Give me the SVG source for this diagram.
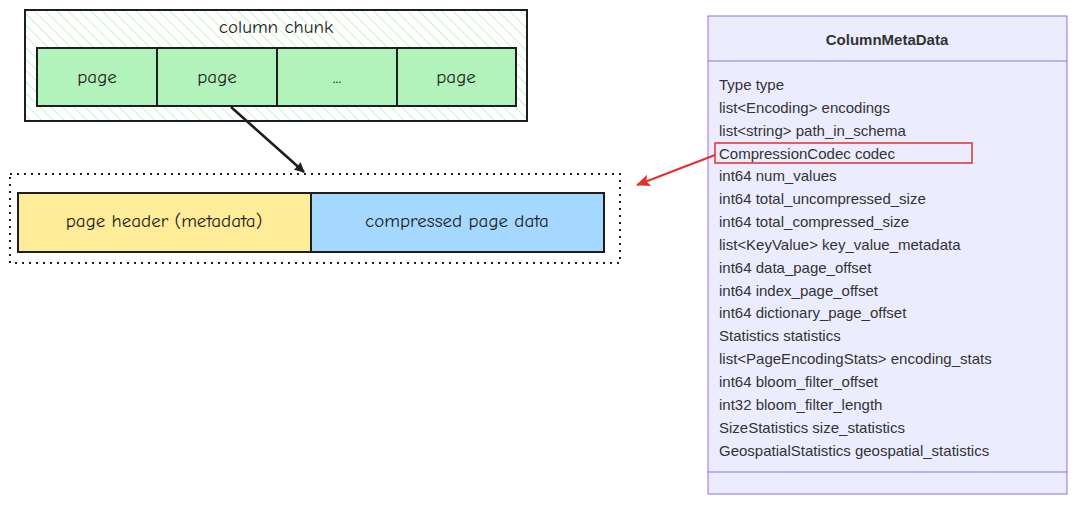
<svg xmlns="http://www.w3.org/2000/svg" width="1078" height="507" viewBox="0 0 1078 507">
<style>
.hw{font-family:"Comic Neue","DejaVu Sans",sans-serif;font-size:19px;fill:#1e1e1e;text-anchor:middle;dominant-baseline:central}
.pg{fill:#b2f2bb;stroke:#1e1e1e;stroke-width:2}
.row{font-family:"Liberation Sans",Arial,sans-serif;font-size:15px;fill:#333;dominant-baseline:central}
</style>
<defs>
<pattern id="hatch" patternUnits="userSpaceOnUse" width="8" height="8" patternTransform="rotate(-45)">
<rect width="8" height="8" fill="#fff"/><line x1="0" y1="0" x2="0" y2="8" stroke="#b2f2bb" stroke-width="1.5"/>
</pattern>
<marker id="ab" markerWidth="10" markerHeight="10" refX="9" refY="5" orient="auto" markerUnits="userSpaceOnUse" viewBox="0 0 10 10"><path d="M0,0 L10,5 L0,10 z" fill="#1e1e1e"/></marker>
<marker id="ar" markerWidth="14" markerHeight="12" refX="13" refY="6" orient="auto" markerUnits="userSpaceOnUse" viewBox="0 0 14 12"><path d="M0,0 L14,6 L0,12 L3,6 z" fill="#e03131"/></marker>
</defs>
<rect width="1078" height="507" fill="#fff"/>
<g id="column-chunk">
<rect x="25" y="10" width="502" height="111" fill="url(#hatch)" stroke="#1e1e1e" stroke-width="2"/>
<text class="hw" x="276" y="27">column chunk</text>
</g>
<g id="page1"><rect class="pg" x="37" y="48" width="120" height="58"/><text class="hw" x="97" y="77">page</text></g>
<g id="page2"><rect class="pg" x="157" y="48" width="120" height="58"/><text class="hw" x="217" y="77">page</text></g>
<g id="page3"><rect class="pg" x="277" y="48" width="120" height="58"/><text class="hw" x="337" y="77">...</text></g>
<g id="page4"><rect class="pg" x="397" y="48" width="119" height="58"/><text class="hw" x="456" y="77">page</text></g>
<g id="page-detail">
<rect x="10" y="174" width="610" height="89" fill="none" stroke="#1e1e1e" stroke-width="2" stroke-dasharray="2 5"/>
<rect x="18" y="193" width="293" height="59" fill="#ffec99" stroke="#1e1e1e" stroke-width="2"/>
<text class="hw" x="164" y="221">page header (metadata)</text>
<rect x="311" y="193" width="293" height="59" fill="#a5d8ff" stroke="#1e1e1e" stroke-width="2"/>
<text class="hw" x="457" y="221">compressed page data</text>
</g>
<g id="ColumnMetaData">
<rect x="708" y="16" width="359" height="478" fill="#ececff" stroke="#9370db" stroke-width="1"/>
<line x1="708" y1="61" x2="1067" y2="61" stroke="#9370db"/>
<line x1="708" y1="472" x2="1067" y2="472" stroke="#9370db"/>
<text x="887" y="39" font-family="Liberation Sans,Arial,sans-serif" font-size="15" font-weight="bold" fill="#333" text-anchor="middle" dominant-baseline="central">ColumnMetaData</text>
<text class="row" x="719" y="84">Type type</text>
<text class="row" x="719" y="107">list&lt;Encoding&gt; encodings</text>
<text class="row" x="719" y="130">list&lt;string&gt; path_in_schema</text>
<text class="row" x="719" y="153">CompressionCodec codec</text>
<text class="row" x="719" y="175">int64 num_values</text>
<text class="row" x="719" y="198">int64 total_uncompressed_size</text>
<text class="row" x="719" y="221">int64 total_compressed_size</text>
<text class="row" x="719" y="244">list&lt;KeyValue&gt; key_value_metadata</text>
<text class="row" x="719" y="267">int64 data_page_offset</text>
<text class="row" x="719" y="290">int64 index_page_offset</text>
<text class="row" x="719" y="312">int64 dictionary_page_offset</text>
<text class="row" x="719" y="335">Statistics statistics</text>
<text class="row" x="719" y="358">list&lt;PageEncodingStats&gt; encoding_stats</text>
<text class="row" x="719" y="381">int64 bloom_filter_offset</text>
<text class="row" x="719" y="404">int32 bloom_filter_length</text>
<text class="row" x="719" y="427">SizeStatistics size_statistics</text>
<text class="row" x="719" y="450">GeospatialStatistics geospatial_statistics</text>
<rect x="715" y="143" width="257" height="20" fill="none" stroke="#e03131" stroke-width="1.5"/>
</g>
<g id="connectors">
<line x1="231" y1="107" x2="304" y2="172" stroke="#1e1e1e" stroke-width="2.5" marker-end="url(#ab)"/>
<line x1="715" y1="155" x2="637" y2="185" stroke="#e03131" stroke-width="2" marker-end="url(#ar)"/>
</g>
</svg>
